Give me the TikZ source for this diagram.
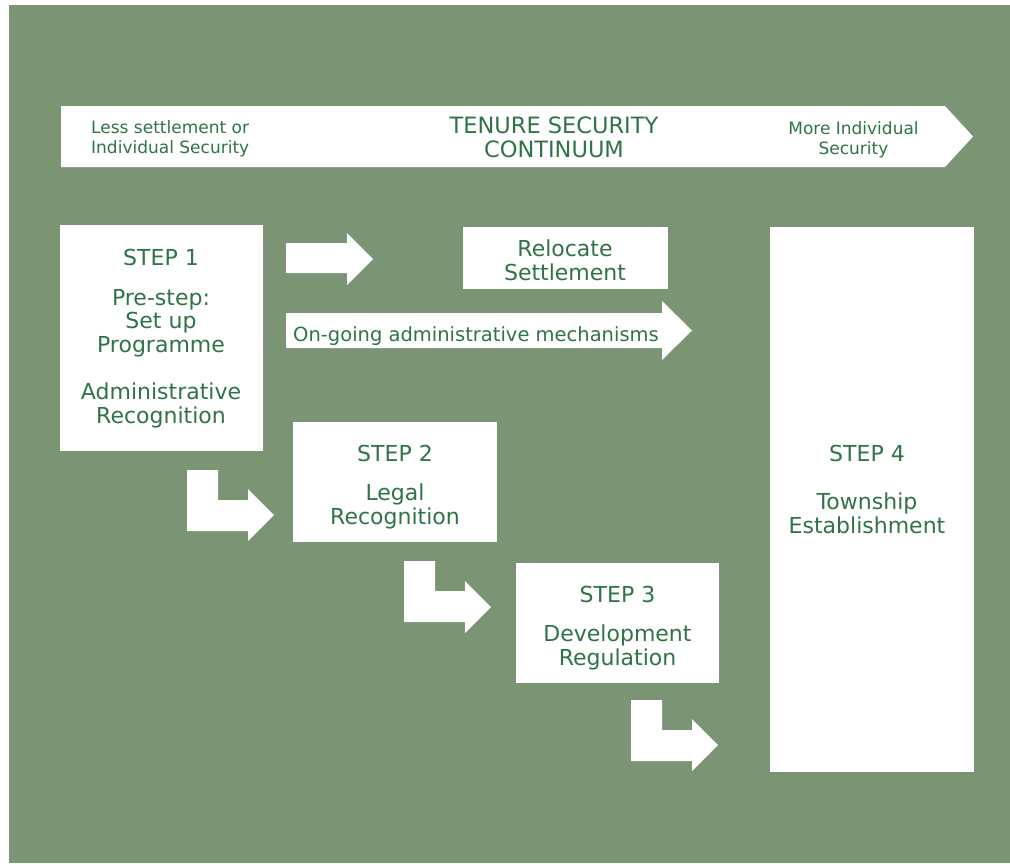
\documentclass[tikz,border=0pt]{standalone}
\usepackage{fontspec}
\setmainfont{DejaVu Sans}
\newfontfamily\dinf{DejaVu Sans}
\definecolor{bggreen}{HTML}{7B9474}
\definecolor{txtgreen}{HTML}{2F7447}
\tikzset{
  panel/.style={fill=white, draw=none, inner sep=0pt, anchor=north west},
  blockarrow/.style={fill=white, draw=none},
  lbl/.style={text=txtgreen, inner sep=0pt, align=center, anchor=base,
              font=\dinf\fontsize{22}{23.5}\selectfont},
  ongoing/.style={text=txtgreen, inner sep=0pt, anchor=base west,
              font=\dinf\fontsize{19.5}{23.5}\selectfont},
  small/.style={text=txtgreen, inner sep=0pt,
              font=\dinf\fontsize{17}{20}\selectfont},
  title/.style={text=txtgreen, inner sep=0pt, align=center, anchor=base,
              font=\dinf\fontsize{22.5}{24}\selectfont},
}
\begin{document}
\begin{tikzpicture}[x=1pt,y=-1pt]
  \useasboundingbox (0,0) rectangle (1010,863);
  \fill[white] (0,0) rectangle (1010,863);
  \fill[bggreen] (9,5) rectangle (1010,863);

  % continuum band arrow
  \coordinate (bandL) at (61,106);
  \fill[blockarrow] (bandL) -- (945,106) -- (973,136.5) -- (945,167) -- (61,167) -- cycle;
  \node[small, anchor=base west, align=left] (less) at (91,153.3) {Less settlement or\\Individual Security};
  \node[title] (tenure) at (554,157) {TENURE SECURITY\\CONTINUUM};
  \node[small, anchor=base, align=center] (more) at (853.5,154) {More Individual\\Security};

  % boxes
  \node[panel, minimum width=203pt, minimum height=226pt] (s1) at (60,225) {};
  \node[panel, minimum width=205pt, minimum height=62pt] (reloc) at (463,227) {};
  \node[panel, minimum width=204pt, minimum height=120pt] (s2) at (293,422) {};
  \node[panel, minimum width=203pt, minimum height=120pt] (s3) at (516,563) {};
  \node[panel, minimum width=204pt, minimum height=545pt] (s4) at (770,227) {};

  % block arrows
  \fill[blockarrow] (286,243) -- (347,243) -- (347,233) -- (373,259) -- (347,285) -- (347,273) -- (286,273) -- cycle;
  \fill[blockarrow] (286,313) -- (662,313) -- (662,301) -- (692,330.5) -- (662,360) -- (662,348) -- (286,348) -- cycle;
  \fill[blockarrow] (187,470) -- (218,470) -- (218,500) -- (248,500) -- (248,489) -- (274,515) -- (248,541) -- (248,531) -- (187,531) -- cycle;
  \fill[blockarrow] (404,561) -- (435,561) -- (435,591) -- (465,591) -- (465,581) -- (491,607) -- (465,633) -- (465,622) -- (404,622) -- cycle;
  \fill[blockarrow] (631,700) -- (662,700) -- (662,730) -- (692,730) -- (692,719) -- (718,745) -- (692,771) -- (692,761) -- (631,761) -- cycle;

  % texts (base anchor = baseline of the last line)
  \node[lbl] (s1a) at (161,265) {STEP 1};
  \node[lbl] (s1b) at (161,352) {Pre-step:\\Set up\\Programme};
  \node[lbl] (s1c) at (161,423) {Administrative\\Recognition};
  \node[lbl] (rela) at (565,280) {Relocate\\Settlement};
  \node[ongoing] (ongo) at (293,341) {On-going administrative mechanisms};
  \node[lbl] (s2a) at (395,461) {STEP 2};
  \node[lbl] (s2b) at (395,524) {Legal\\Recognition};
  \node[lbl] (s3a) at (617.5,602) {STEP 3};
  \node[lbl] (s3b) at (617.5,665) {Development\\Regulation};
  \node[lbl] (s4a) at (867,461) {STEP 4};
  \node[lbl] (s4b) at (867,533) {Township\\Establishment};
\end{tikzpicture}
\end{document}
